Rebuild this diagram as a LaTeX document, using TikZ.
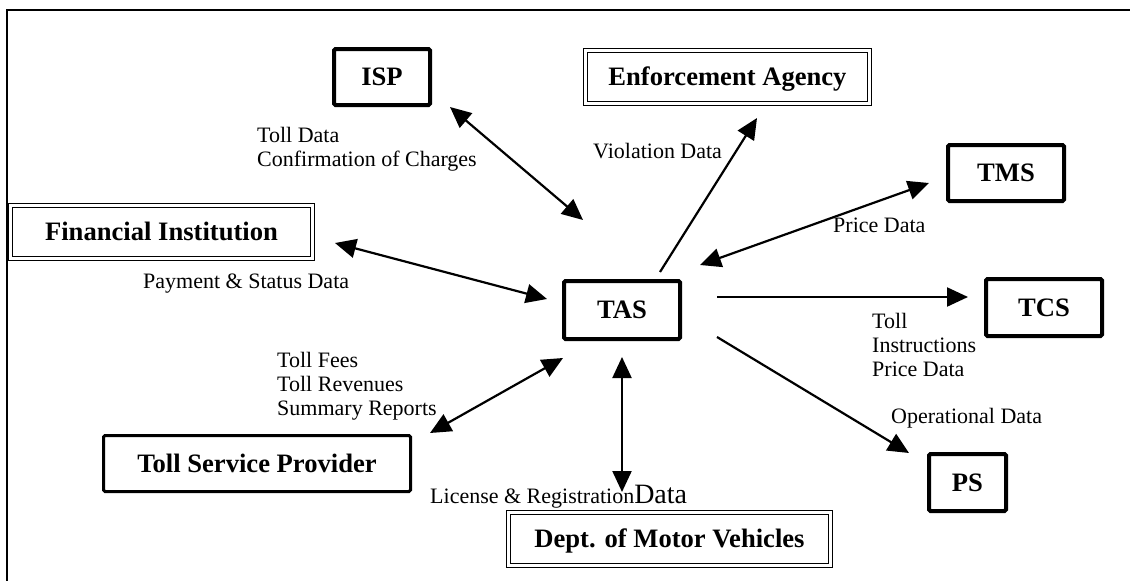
\documentclass[tikz,border=0pt]{standalone}
\usepackage{fontspec}
\setmainfont{Liberation Serif}
\usetikzlibrary{arrows.meta}
\begin{document}
\begin{tikzpicture}[x=1pt,y=-1pt,
  boxfont/.style={font=\fontsize{26.6}{30}\selectfont\bfseries,text height=17.8pt,text depth=0pt},
  thickbox/.style={draw,line width=4pt,rounded corners=1.5pt,inner sep=0pt,boxfont},
  dblbox/.style={draw,line width=1.2pt,double,double distance=2.4pt,inner sep=0pt,boxfont},
  lbl/.style={anchor=base west,inner sep=0pt,font=\fontsize{22}{24}\selectfont},
  tip/.tip={Triangle[length=21pt,width=19pt]},
  link/.style={line width=2.2pt,-tip},
  blink/.style={line width=2.2pt,tip-tip},
  frame/.style={line width=2pt}]
\useasboundingbox (0,0) rectangle (1130,581);
% frame
\coordinate (fa) at (7,581);
\coordinate (fb) at (7,10);
\coordinate (fc) at (1130,10);
\draw[frame] (fa) -- (fb) -- (fc);
% boxes
\node[thickbox,minimum width=96pt,minimum height=56pt] (isp) at (382,77) {ISP};
\node[thickbox,minimum width=116pt,minimum height=56pt] (tms) at (1006,173) {TMS};
\node[thickbox,minimum width=116pt,minimum height=57pt] (tcs) at (1044,307.5) {TCS};
\node[thickbox,minimum width=77pt,minimum height=57pt] (ps) at (967.5,482.5) {PS};
\node[thickbox,minimum width=116pt,minimum height=58pt] (tas) at (622,310) {TAS};
\node[thickbox,line width=3pt,minimum width=307pt,minimum height=56pt] (tsp) at (257,463.5) {Toll Service Provider};
\node[dblbox,minimum width=284pt,minimum height=53pt] (ea) at (727.5,77) {Enforcement Agency};
\node[dblbox,minimum width=302pt,minimum height=53pt] (fi) at (161.5,232) {Financial Institution};
\node[dblbox,minimum width=322pt,minimum height=53pt] (dmv) at (669.5,539) {Dept. of Motor Vehicles};
% arrow end points
\coordinate (ispA) at (450,107);  \coordinate (ispB) at (583,220);
\coordinate (eaA) at (660,272);   \coordinate (eaB) at (757,118);
\coordinate (tmsA) at (700,265);  \coordinate (tmsB) at (929,183);
\coordinate (tcsA) at (717,297);  \coordinate (tcsB) at (968,297);
\coordinate (psA) at (717,337);   \coordinate (psB) at (909,453);
\coordinate (dmvA) at (622,357);  \coordinate (dmvB) at (622,492);
\coordinate (tspA) at (563,358);  \coordinate (tspB) at (430,433);
\coordinate (fiA) at (547,299);   \coordinate (fiB) at (335,243);
% connectors
\draw[blink] (ispA) -- (ispB);
\draw[link] (eaA) -- (eaB);
\draw[blink] (tmsA) -- (tmsB);
\draw[link] (tcsA) -- (tcsB);
\draw[link] (psA) -- (psB);
\draw[blink] (dmvA) -- (dmvB);
\draw[blink] (tspA) -- (tspB);
\draw[blink] (fiA) -- (fiB);
% labels
\node[lbl] (l1) at (257,142) {Toll Data};
\node[lbl] (l2) at (257,166) {Confirmation of Charges};
\node[lbl] (l3) at (593,158) {Violation Data};
\node[lbl] (l4) at (833,232) {Price Data};
\node[lbl] (l5) at (143,288) {Payment \& Status Data};
\node[lbl] (l6) at (277,367) {Toll Fees};
\node[lbl] (l7) at (277,391) {Toll Revenues};
\node[lbl] (l8) at (277,415) {Summary Reports};
\node[lbl] (l9) at (872,328) {Toll};
\node[lbl] (l10) at (872,352) {Instructions};
\node[lbl] (l11) at (872,376) {Price Data};
\node[lbl] (l12) at (891,423) {Operational Data};
\node[lbl] (l13) at (430,503) {License \& Registration{\fontsize{28}{30}\selectfont Data}};
\end{tikzpicture}
\end{document}
